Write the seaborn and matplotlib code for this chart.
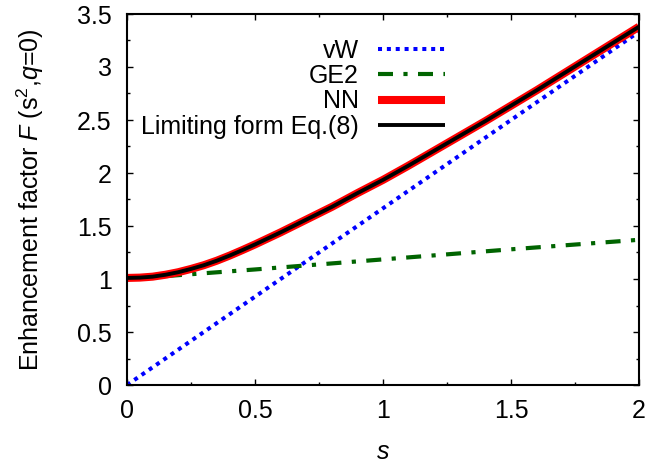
import matplotlib
matplotlib.use("Agg")
import matplotlib.pyplot as plt
from matplotlib.ticker import MultipleLocator
import seaborn as sns

# Reduced gradient s and enhancement factors
s_vw = [0.0, 0.5, 1.0, 1.5, 2.0]
F_vw = [0.0, 0.833, 1.667, 2.5, 3.333]

s_ge2 = [0.0, 0.5, 1.0, 1.5, 2.0]
F_ge2 = [1.0, 1.09, 1.185, 1.28, 1.37]

s_nn = [0.0, 0.05, 0.1, 0.15, 0.2, 0.25, 0.3, 0.35, 0.4, 0.45, 0.5,
        0.6, 0.7, 0.8, 0.9, 1.0, 1.1, 1.2, 1.3, 1.4, 1.5,
        1.6, 1.7, 1.8, 1.9, 2.0]
F_nn = [1.01, 1.013, 1.022, 1.04, 1.064, 1.095, 1.13, 1.172, 1.22, 1.272, 1.326,
        1.44, 1.56, 1.68, 1.81, 1.935, 2.07, 2.21, 2.35, 2.49, 2.635,
        2.78, 2.93, 3.08, 3.23, 3.38]

s_lim = list(s_nn)
F_lim = [1.01, 1.013, 1.022, 1.04, 1.064, 1.095, 1.13, 1.172, 1.22, 1.272, 1.326,
         1.44, 1.56, 1.68, 1.81, 1.935, 2.07, 2.21, 2.35, 2.49, 2.635,
         2.78, 2.93, 3.08, 3.23, 3.38]

labels = ["vW", "GE2", "NN", "Limiting form Eq.(8)"]

sns.set_style("ticks")
plt.rcParams["font.family"] = ["Liberation Sans", "DejaVu Sans"]
plt.rcParams["mathtext.fontset"] = "custom"
plt.rcParams["mathtext.rm"] = "Liberation Sans"
plt.rcParams["mathtext.it"] = "Liberation Sans:italic"
plt.rcParams["font.size"] = 18
for key in ["text.color", "axes.labelcolor", "xtick.color", "ytick.color",
            "axes.edgecolor"]:
    plt.rcParams[key] = "black"

fig = plt.figure(figsize=(6.49, 4.65), dpi=100)
ax = fig.add_axes([127 / 649, 1 - 385 / 465, 512 / 649, 371 / 465])

sns.lineplot(x=s_vw, y=F_vw, ax=ax, color="#0000ff", lw=2.9,
             linestyle=(0, (1.0, 1.2)), dash_capstyle="butt", label=labels[0])
sns.lineplot(x=s_ge2, y=F_ge2, ax=ax, color="#006400", lw=3.0,
             linestyle=(0, (3.6, 2.5, 1.0, 2.5)), dash_capstyle="butt",
             label=labels[1])
sns.lineplot(x=s_nn, y=F_nn, ax=ax, color="#ff0000", lw=5.8,
             solid_capstyle="butt", label=labels[2])
sns.lineplot(x=s_lim, y=F_lim, ax=ax, color="black", lw=2.8,
             solid_capstyle="butt", label=labels[3])

ax.set_xlim(0, 2)
ax.set_ylim(0, 3.5)
ax.set_xticks([0, 0.5, 1, 1.5, 2])
ax.set_xticklabels(["0", "0.5", "1", "1.5", "2"])
ax.set_yticks([0, 0.5, 1, 1.5, 2, 2.5, 3, 3.5])
ax.set_yticklabels(["0", "0.5", "1", "1.5", "2", "2.5", "3", "3.5"])
ax.xaxis.set_minor_locator(MultipleLocator(0.25))
ax.yaxis.set_minor_locator(MultipleLocator(0.25))

ax.tick_params(which="both", direction="in", top=True, right=True,
               colors="black", labelsize=18)
ax.tick_params(which="major", length=4.5, width=1.0)
ax.tick_params(which="minor", length=2.2, width=1.0)
ax.tick_params(axis="x", which="major", pad=10)
ax.tick_params(axis="y", which="major", pad=11)
for sp in ax.spines.values():
    sp.set_linewidth(1.5)
    sp.set_color("black")

ax.set_xlabel("$\\it{s}$", fontsize=18, labelpad=12)
ax.set_ylabel("Enhancement factor $\\it{F}$ (s$^2$,$\\it{q}$=0)", fontsize=18,
              labelpad=22)

leg = ax.legend(loc="upper right", bbox_to_anchor=(445 / 649, 1 - 39 / 465),
                bbox_transform=fig.transFigure, frameon=False, markerfirst=False,
                handlelength=2.7, handletextpad=0.75, labelspacing=0.05,
                borderpad=0, borderaxespad=0, fontsize=18)

fig.savefig("out.png", dpi=100)
